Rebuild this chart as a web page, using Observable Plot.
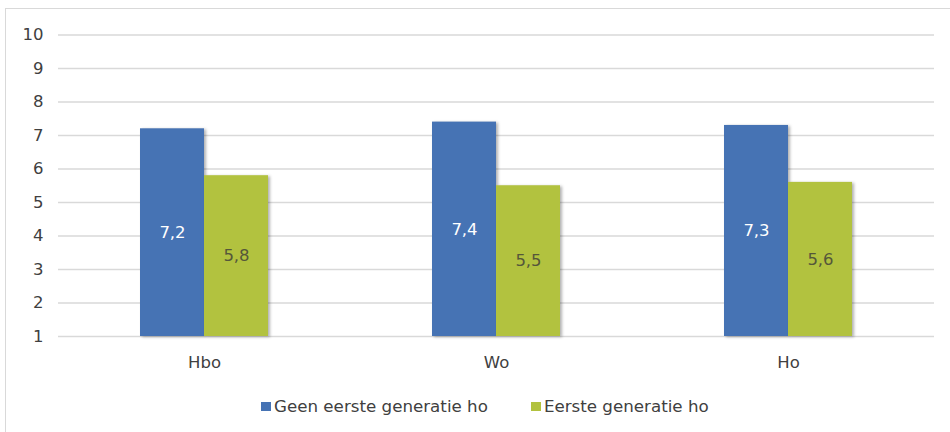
<!DOCTYPE html>
<html>
<head>
<meta charset="utf-8">
<script src="https://cdn.jsdelivr.net/npm/d3@7"></script>
<script src="https://cdn.jsdelivr.net/npm/@observablehq/plot@0.6"></script>
<style>
  html, body { margin: 0; padding: 0; background: #fff; overflow: hidden; width: 950px; height: 432px; }
  #frame { position: absolute; left: 5px; top: 8px; width: 980px; height: 460px; border: 1px solid #d9d9d9; box-sizing: border-box; }
  #chart { position: absolute; left: 0; top: 0; }
  #legend { position: absolute; left: 261px; top: 396px; display: flex; font-family: "DejaVu Sans", sans-serif; font-size: 16.7px; line-height: 20px; color: #404040; }
  .item { display: flex; align-items: center; margin-right: 43px; }
  .sw { width: 10px; height: 9px; margin-right: 3px; }
</style>
</head>
<body>
<div id="frame"></div>
<div id="chart"></div>
<div id="legend"></div>
<script>
const groups = ["Hbo", "Wo", "Ho"];
const series = ["Geen eerste generatie ho", "Eerste generatie ho"];
const geen = [7.2, 7.4, 7.3];
const eerste = [5.8, 5.5, 5.6];
const yTicks = [1, 2, 3, 4, 5, 6, 7, 8, 9, 10];
const colors = ["#4673b4", "#b2c23f"];
const labelColors = ["#ffffff", "#55573a"];

const values = [geen, eerste];
const data = [];
groups.forEach((g, i) => {
  series.forEach((s, j) => {
    data.push({group: g, series: s, value: values[j][i], label: String(values[j][i]).replace(".", ","), lc: labelColors[j]});
  });
});

const plot = Plot.plot({
  width: 950,
  height: 380,
  marginLeft: 58,
  marginRight: 16,
  marginTop: 34.5,
  marginBottom: 44,
  style: {fontFamily: "DejaVu Sans, sans-serif", fontSize: "16px", color: "#404040", background: "transparent"},
  fx: {domain: groups, padding: 0, label: null},
  x: {domain: series, paddingInner: 0, paddingOuter: 1.26, align: 0.5, axis: null},
  y: {domain: [1, 10], label: null},
  color: {domain: series, range: colors},
  marks: [
    Plot.gridY(yTicks, {stroke: "#d9d9d9", strokeOpacity: 1, strokeWidth: 1.5}),
    Plot.axisY(yTicks, {tickSize: 0, tickPadding: 15, label: null, fontSize: 16.5}),
    Plot.axisFx({anchor: "bottom", tickSize: 0, tickPadding: 20, label: null, fontSize: 16.5}),
    Plot.barY(data, {fx: "group", x: "series", y1: 1, y2: "value", fill: "series", inset: 0}),
    Plot.text(data, {fx: "group", x: "series", y: d => (1 + d.value) / 2, text: "label", fill: "lc", fontSize: 16.5})
  ]
});
d3.select(plot).selectAll("g[aria-label=bar] rect").style("filter", "drop-shadow(2px 1px 1.5px rgba(0,0,0,0.3))");
document.getElementById("chart").appendChild(plot);

const legend = d3.select("#legend");
series.forEach((s, i) => {
  const it = legend.append("div").attr("class", "item");
  it.append("div").attr("class", "sw").style("background", colors[i]);
  it.append("span").text(s);
});
</script>
</body>
</html>
